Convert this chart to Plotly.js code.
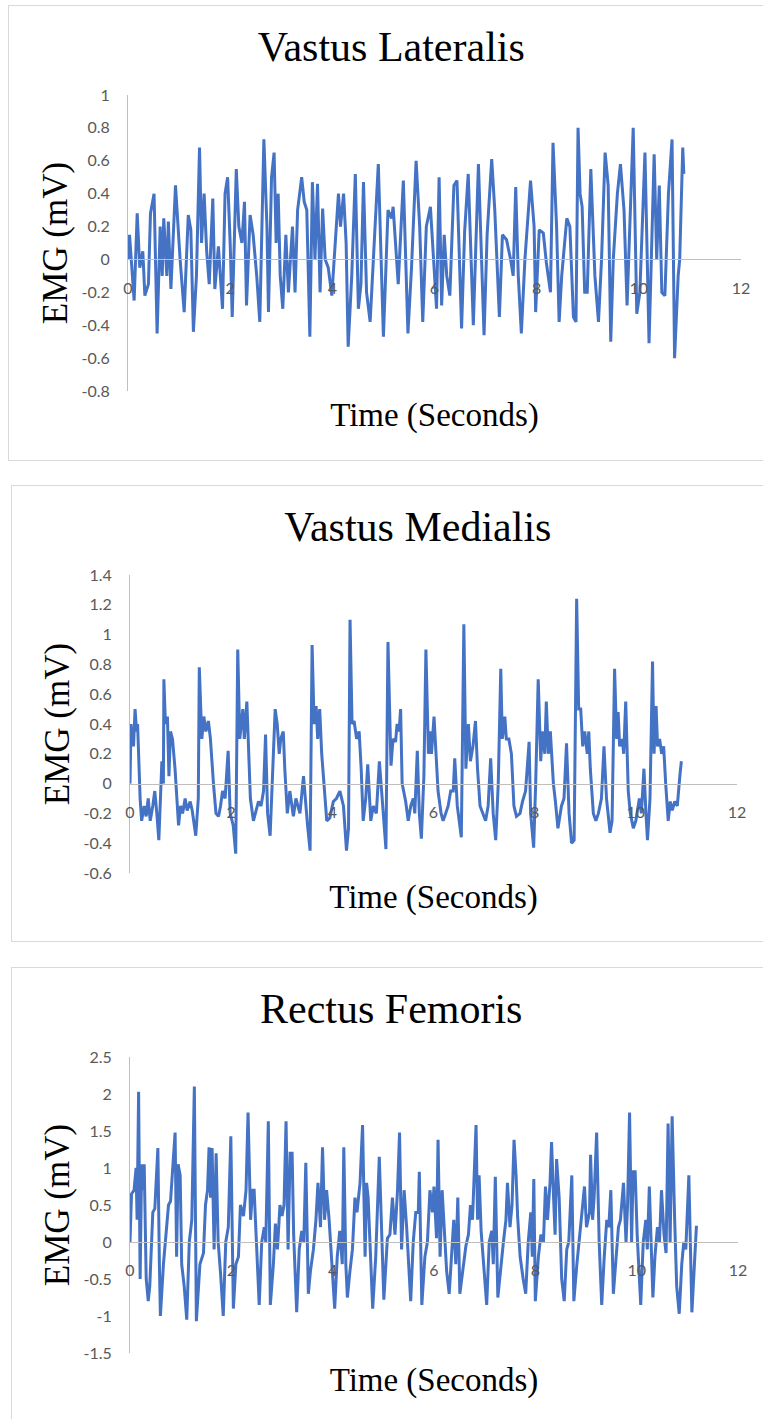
<!DOCTYPE html>
<html>
<head>
<meta charset="utf-8">
<script src="https://cdn.plot.ly/plotly-3.0.1.min.js"></script>
<style>
  html, body { margin: 0; padding: 0; background: #ffffff; }
  body { width: 763px; height: 1419px; overflow: hidden; position: relative; }
  .panel { position: absolute; border: 1px solid #d9d9d9; background: #ffffff; overflow: hidden; }
</style>
</head>
<body>
<div class="panel" style="left:8px; top:5px; width:760px; height:454px;"><div id="p1"></div></div>
<div class="panel" style="left:11px; top:485px; width:760px; height:455px;"><div id="p2"></div></div>
<div class="panel" style="left:11px; top:967px; width:760px; height:460px;"><div id="p3"></div></div>
<script>
// ---------------- data ----------------
const xTickVals = [0, 2, 4, 6, 8, 10, 12];
const xTickText = ['0', '2', '4', '6', '8', '10', '12'];

const vlTickVals = [-0.8, -0.6, -0.4, -0.2, 0, 0.2, 0.4, 0.6, 0.8, 1];
const vlTickText = ['-0.8', '-0.6', '-0.4', '-0.2', '0', '0.2', '0.4', '0.6', '0.8', '1'];
const vmTickVals = [-0.6, -0.4, -0.2, 0, 0.2, 0.4, 0.6, 0.8, 1, 1.2, 1.4];
const vmTickText = ['-0.6', '-0.4', '-0.2', '0', '0.2', '0.4', '0.6', '0.8', '1', '1.2', '1.4'];
const rfTickVals = [-1.5, -1, -0.5, 0, 0.5, 1, 1.5, 2, 2.5];
const rfTickText = ['-1.5', '-1', '-0.5', '0', '0.5', '1', '1.5', '2', '2.5'];

// Vastus Lateralis
const vlTime = [0, 0.03, 0.12, 0.18, 0.23, 0.29, 0.33, 0.40, 0.44, 0.51,
  0.57, 0.63, 0.67, 0.70, 0.76, 0.79, 0.84, 0.93, 1.02, 1.10,
  1.18, 1.23, 1.28, 1.34, 1.40, 1.44, 1.49, 1.54, 1.59, 1.66,
  1.70, 1.77, 1.85, 1.90, 1.95, 2.00, 2.04, 2.08, 2.12, 2.17,
  2.23, 2.28, 2.32, 2.39, 2.45, 2.52, 2.58, 2.66, 2.72, 2.75,
  2.81, 2.86, 2.90, 2.94, 2.98, 3.03, 3.09, 3.14, 3.22, 3.27,
  3.32, 3.40, 3.45, 3.50, 3.56, 3.61, 3.66, 3.71, 3.76, 3.81,
  3.86, 3.92, 3.99, 4.04, 4.12, 4.16, 4.22, 4.27, 4.31, 4.38,
  4.45, 4.51, 4.56, 4.61, 4.67, 4.74, 4.80, 4.90, 5.00, 5.09,
  5.16, 5.19, 5.29, 5.39, 5.48, 5.55, 5.64, 5.71, 5.77, 5.84,
  5.92, 6.01, 6.04, 6.09, 6.14, 6.19, 6.24, 6.30, 6.38, 6.44,
  6.53, 6.59, 6.66, 6.76, 6.86, 6.97, 7.03, 7.12, 7.18, 7.27,
  7.33, 7.41, 7.49, 7.54, 7.59, 7.64, 7.70, 7.77, 7.88, 7.95,
  7.98, 8.05, 8.13, 8.19, 8.27, 8.32, 8.39, 8.44, 8.49, 8.59,
  8.65, 8.72, 8.77, 8.81, 8.85, 8.89, 8.94, 8.99, 9.06, 9.14,
  9.21, 9.27, 9.34, 9.40, 9.45, 9.50, 9.58, 9.64, 9.71, 9.77,
  9.89, 9.96, 10.02, 10.12, 10.20, 10.30, 10.35, 10.40, 10.45, 10.51,
  10.58, 10.65, 10.70, 10.77, 10.80, 10.86, 10.88];
const vlEmg = [0, 0.15, -0.25, 0.28, -0.05, 0.05, -0.22, -0.15, 0.28, 0.40,
  -0.45, 0.20, -0.10, 0.25, -0.10, 0.23, -0.18, 0.45, 0.00, -0.32,
  0.27, 0.18, -0.44, -0.10, 0.68, 0.10, 0.40, 0.05, -0.15, 0.37,
  -0.18, 0.08, -0.30, 0.40, 0.50, 0.10, -0.35, 0.10, 0.55, 0.20,
  0.10, 0.35, -0.28, 0.27, 0.15, -0.10, -0.38, 0.73, 0.20, -0.32,
  0.50, 0.65, 0.10, 0.40, -0.10, -0.30, 0.15, -0.20, 0.20, -0.20,
  0.30, 0.50, 0.35, 0.30, -0.47, 0.47, 0.00, 0.46, -0.20, 0.31,
  0.00, -0.05, -0.22, 0.02, 0.40, 0.20, 0.40, 0.10, -0.53, -0.10,
  0.52, -0.30, -0.15, 0.47, -0.20, -0.38, 0.00, 0.58, -0.47, 0.30,
  0.25, 0.32, -0.15, 0.48, -0.45, -0.05, 0.60, 0.20, -0.38, 0.20,
  0.32, -0.10, -0.30, 0.50, -0.28, 0.15, -0.10, -0.22, 0.45, 0.48,
  -0.42, 0.17, 0.52, -0.40, 0.58, -0.46, 0.15, 0.61, 0.30, -0.35,
  0.15, 0.12, 0.00, -0.10, 0.44, -0.10, -0.45, 0.00, 0.48, 0.20,
  -0.32, 0.18, 0.16, -0.02, -0.20, 0.71, 0.20, -0.38, -0.10, 0.25,
  0.20, -0.35, -0.38, 0.80, 0.40, 0.32, -0.20, -0.20, 0.55, -0.10,
  -0.38, 0.00, 0.65, 0.45, -0.50, 0.00, 0.40, 0.58, 0.30, -0.28,
  0.80, -0.33, -0.20, 0.65, -0.51, 0.64, 0.00, 0.45, -0.20, -0.22,
  0.40, 0.73, -0.60, -0.10, 0.00, 0.68, 0.52];

// Vastus Medialis
const vmTime = [0, 0.02, 0.03, 0.07, 0.10, 0.13, 0.15, 0.20, 0.23, 0.28,
  0.32, 0.36, 0.40, 0.45, 0.49, 0.53, 0.57, 0.63, 0.66, 0.67,
  0.70, 0.74, 0.77, 0.80, 0.84, 0.89, 0.96, 1.00, 1.04, 1.09,
  1.13, 1.19, 1.23, 1.30, 1.35, 1.37, 1.42, 1.46, 1.50, 1.55,
  1.59, 1.65, 1.70, 1.75, 1.79, 1.83, 1.88, 1.94, 1.98, 2.04,
  2.09, 2.13, 2.17, 2.23, 2.26, 2.31, 2.34, 2.38, 2.44, 2.49,
  2.54, 2.59, 2.64, 2.68, 2.72, 2.77, 2.82, 2.87, 2.91, 2.95,
  2.98, 3.03, 3.06, 3.11, 3.16, 3.23, 3.28, 3.36, 3.43, 3.48,
  3.51, 3.56, 3.60, 3.64, 3.68, 3.71, 3.75, 3.79, 3.83, 3.89,
  3.95, 4.02, 4.08, 4.15, 4.22, 4.28, 4.32, 4.35, 4.39, 4.43,
  4.48, 4.53, 4.57, 4.61, 4.66, 4.70, 4.76, 4.81, 4.87, 4.93,
  5.06, 5.10, 5.16, 5.20, 5.25, 5.28, 5.32, 5.35, 5.38, 5.41,
  5.45, 5.50, 5.55, 5.60, 5.63, 5.68, 5.72, 5.76, 5.81, 5.85,
  5.90, 5.93, 5.96, 6.01, 6.05, 6.09, 6.15, 6.19, 6.24, 6.29,
  6.34, 6.39, 6.42, 6.47, 6.55, 6.60, 6.64, 6.69, 6.73, 6.78,
  6.83, 6.87, 6.92, 6.98, 7.03, 7.08, 7.13, 7.18, 7.23, 7.28,
  7.33, 7.36, 7.41, 7.44, 7.49, 7.54, 7.59, 7.64, 7.71, 7.76,
  7.82, 7.89, 7.92, 7.98, 8.02, 8.07, 8.12, 8.15, 8.20, 8.23,
  8.27, 8.31, 8.37, 8.41, 8.46, 8.53, 8.58, 8.63, 8.68, 8.73,
  8.78, 8.83, 8.87, 8.91, 8.95, 8.99, 9.04, 9.07, 9.10, 9.16,
  9.21, 9.26, 9.32, 9.37, 9.42, 9.49, 9.53, 9.58, 9.62, 9.65,
  9.68, 9.73, 9.76, 9.80, 9.85, 9.89, 9.95, 10.00, 10.07, 10.11,
  10.16, 10.20, 10.23, 10.28, 10.33, 10.36, 10.40, 10.43, 10.47, 10.51,
  10.55, 10.59, 10.64, 10.68, 10.72, 10.77, 10.82, 10.87, 10.90];
const vmEmg = [0, 0.40, 0.35, 0.25, 0.50, 0.35, 0.40, -0.10, -0.25, -0.15,
  -0.22, -0.10, -0.25, -0.15, -0.05, -0.20, -0.38, 0.15, 0.00, 0.70,
  0.40, 0.45, 0.05, 0.35, 0.30, 0.10, -0.28, -0.15, -0.20, -0.10,
  -0.18, -0.12, -0.18, -0.35, -0.10, 0.78, 0.30, 0.45, 0.35, 0.42,
  0.30, 0.00, -0.20, -0.22, -0.15, -0.05, -0.10, 0.22, -0.20, -0.28,
  -0.47, 0.90, 0.30, 0.50, 0.30, 0.55, 0.20, -0.10, -0.25, -0.18,
  -0.12, -0.15, -0.05, 0.33, -0.20, -0.35, 0.10, 0.50, 0.40, 0.20,
  0.30, 0.35, 0.10, -0.20, -0.05, -0.22, -0.10, -0.20, 0.05, -0.20,
  -0.28, -0.45, 0.93, 0.40, 0.52, 0.30, 0.50, 0.20, 0.00, -0.25,
  -0.23, -0.12, -0.10, -0.05, -0.15, -0.45, -0.30, 1.10, 0.40, 0.42,
  0.30, 0.35, 0.10, -0.25, -0.10, 0.13, -0.25, -0.15, -0.20, 0.15,
  -0.44, 0.95, 0.12, 0.30, 0.28, 0.40, 0.35, 0.50, 0.00, -0.05,
  -0.12, -0.25, -0.15, -0.10, -0.20, 0.22, -0.20, -0.37, 0.05, 0.90,
  0.20, 0.35, 0.20, 0.45, 0.20, -0.05, -0.20, -0.25, -0.20, -0.15,
  -0.05, -0.05, 0.17, -0.15, -0.36, 1.07, 0.10, 0.40, 0.15, 0.25,
  0.42, 0.10, -0.15, -0.20, -0.25, -0.15, 0.17, -0.20, -0.38, 0.00,
  0.77, 0.30, 0.45, 0.30, 0.30, 0.20, -0.15, -0.22, -0.20, -0.12,
  -0.05, 0.28, -0.20, -0.43, 0.00, 0.70, 0.15, 0.35, 0.20, 0.55,
  0.20, 0.35, 0.00, -0.12, -0.30, -0.15, -0.10, 0.27, -0.20, -0.40,
  -0.38, 1.24, 0.50, 0.50, 0.25, 0.35, 0.20, 0.35, 0.10, -0.20,
  -0.25, -0.20, -0.10, 0.25, -0.10, -0.33, -0.25, 0.77, 0.30, 0.48,
  0.25, 0.30, 0.20, 0.55, -0.05, -0.20, -0.30, -0.25, -0.10, -0.20,
  0.10, -0.20, -0.38, -0.10, 0.82, 0.20, 0.52, 0.25, 0.30, 0.20,
  0.25, 0.00, -0.25, -0.12, -0.18, -0.12, -0.15, 0.05, 0.15];

// Rectus Femoris
const rfTime = [0, 0.03, 0.08, 0.12, 0.14, 0.17, 0.20, 0.23, 0.26, 0.28,
  0.32, 0.36, 0.39, 0.45, 0.49, 0.55, 0.58, 0.60, 0.66, 0.70,
  0.76, 0.80, 0.84, 0.89, 0.92, 0.95, 0.99, 1.02, 1.07, 1.12,
  1.17, 1.22, 1.27, 1.31, 1.38, 1.45, 1.49, 1.53, 1.56, 1.59,
  1.62, 1.66, 1.70, 1.74, 1.79, 1.84, 1.89, 1.94, 1.99, 2.04,
  2.09, 2.14, 2.18, 2.24, 2.29, 2.33, 2.38, 2.42, 2.45, 2.50,
  2.55, 2.60, 2.65, 2.68, 2.73, 2.77, 2.83, 2.87, 2.91, 2.96,
  3.00, 3.04, 3.08, 3.12, 3.16, 3.20, 3.23, 3.29, 3.34, 3.39,
  3.43, 3.47, 3.52, 3.56, 3.62, 3.67, 3.71, 3.76, 3.80, 3.84,
  3.88, 3.93, 3.98, 4.04, 4.09, 4.14, 4.19, 4.22, 4.26, 4.29,
  4.34, 4.39, 4.44, 4.48, 4.54, 4.59, 4.64, 4.67, 4.70, 4.75,
  4.79, 4.85, 4.92,
  5.01, 5.08, 5.13, 5.18, 5.23, 5.28, 5.32, 5.36, 5.41, 5.46,
  5.54, 5.59, 5.64, 5.69, 5.71, 5.76, 5.82, 5.87, 5.92, 5.97,
  6.00, 6.05, 6.08, 6.12, 6.16, 6.20, 6.25, 6.30, 6.35, 6.39,
  6.43, 6.47, 6.51, 6.58, 6.63, 6.68, 6.72, 6.76, 6.83, 6.86,
  6.89, 6.93, 6.97, 7.04, 7.09, 7.14, 7.17, 7.21, 7.26, 7.32,
  7.37, 7.42, 7.45, 7.50, 7.54, 7.58, 7.62, 7.65, 7.70, 7.76,
  7.81, 7.86, 7.91, 7.94, 7.97, 8.00, 8.06, 8.11, 8.16, 8.20,
  8.24, 8.29, 8.32, 8.36, 8.39, 8.42, 8.47, 8.52, 8.57, 8.62,
  8.66, 8.72, 8.76, 8.82, 8.86, 8.91, 8.97, 9.01, 9.07, 9.09,
  9.13, 9.16, 9.21, 9.26, 9.31, 9.36, 9.41, 9.45, 9.49, 9.54,
  9.59, 9.64, 9.68, 9.74, 9.79, 9.82, 9.86, 9.90, 9.93, 9.97,
  10.01, 10.08, 10.13, 10.18, 10.21, 10.25, 10.32, 10.36, 10.41, 10.45,
  10.49, 10.54, 10.58, 10.62, 10.66, 10.70, 10.75, 10.79, 10.84, 10.89,
  10.93, 10.97, 11.03, 11.09, 11.14, 11.18];
const rfEmg = [0, 0.65, 0.70, 1.00, 0.30, 2.03, -0.50, 1.05, 0.70, 1.05,
  -0.50, -0.80, -0.60, 0.40, 0.45, 1.27, -0.30, -1.00, -0.30, 0.00,
  0.50, 0.55, 0.95, 1.48, -0.20, 1.05, 0.90, -0.30, -0.60, -1.05,
  0.00, 0.30, 2.10, -1.07, -0.30, -0.15, 0.50, 0.70, 1.28, 0.60,
  1.27, -0.10, 1.20, 0.00, -0.45, -1.00, 0.00, 0.20, 1.43, -0.90,
  -0.30, -0.20, 0.50, 0.35, 0.70, 1.75, 0.30, 0.70, 0.70, -0.20,
  -0.85, 0.00, 0.20, 0.00, 1.63, -0.85, -0.30, 0.25, -0.10, 0.50,
  0.35, 0.50, 1.63, -0.10, 1.20, 1.20, 0.10, -0.95, -0.10, 0.15,
  0.00, 1.07, -0.70, -0.40, -0.10, 0.30, 0.80, 0.20, 1.28, 0.30,
  0.70, 0.30, -0.20, -0.90, -0.20, 0.15, -0.30, 1.28, -0.30, -0.75,
  -0.40, -0.10, 0.60, 0.40, 0.80, 1.58, -0.20, 0.80, 0.60, -0.40,
  -0.90, -0.20, 1.15,
  -0.78, 0.05, 0.10, 0.60, 0.10, 0.70, 1.48, -0.10, 0.70, 0.20,
  -0.80, 0.00, 0.40, 0.40, 0.95, -0.85, -0.20, 0.00, 0.70, 0.40,
  0.75, 0.05, 1.38, -0.20, 0.70, 0.20, -0.40, -0.70, -0.20, 0.30,
  -0.30, 0.60, -0.70, -0.30, -0.05, 0.10, 0.50, 0.30, 1.58, 0.30,
  0.90, 0.15, -0.20, -0.85, 0.00, 0.15, -0.30, 0.88, -0.75, -0.30,
  0.00, 0.30, 0.80, 0.20, 0.50, 1.38, 0.90, 0.35, -0.20, -0.50,
  -0.70, 0.00, 0.40, -0.20, 0.85, -0.80, -0.20, 0.10, 0.00, 0.75,
  0.30, 0.80, 1.35, 0.60, 0.10, 1.12, 0.60, -0.50, -0.80, -0.10,
  0.00, 0.90, -0.80, -0.30, 0.00, 0.30, 0.75, 0.20, 0.40, 1.18,
  0.30, 0.60, 1.48, 0.00, -0.85, -0.20, 0.30, 0.20, 0.70, -0.70,
  -0.20, 0.20, 0.30, 0.80, 0.00, 0.50, 1.75, 0.00, 0.95, 0.95,
  0.10, -0.85, 0.00, 0.30, -0.10, 0.75, -0.75, -0.20, 0.20, 0.00,
  0.70, 0.10, -0.15, 1.60, 0.00, 1.70, 0.30, -0.60, -0.97, -0.30,
  0.00, -0.10, 0.90, -0.95, -0.30, 0.22];

// ---------------- drawing ----------------
const SERIF = 'Liberation Serif, Times New Roman, serif';
const SANS = 'Lato, Carlito, Open Sans, sans-serif';
const TICK_COLOR = '#595959';
const AXIS_LINE = '#bfbfbf';

function drawPanel(id, cfg) {
  const yr = cfg.yRange;
  const zeroPos = (0 - yr[0]) / (yr[1] - yr[0]);
  const trace = {
    x: cfg.t, y: cfg.v, type: 'scatter', mode: 'lines',
    line: { color: '#4472c4', width: 3 },
    hoverinfo: 'skip'
  };
  const layout = {
    width: cfg.w, height: cfg.h,
    margin: { l: cfg.l, r: cfg.w - cfg.l - cfg.pw, t: cfg.t0, b: cfg.h - cfg.t0 - cfg.ph, pad: 0 },
    paper_bgcolor: '#ffffff', plot_bgcolor: '#ffffff',
    showlegend: false,
    title: {
      text: cfg.title,
      font: { family: SERIF, size: 42, color: '#000000' },
      x: cfg.tx, xref: 'container', xanchor: 'center',
      y: cfg.ty, yref: 'container', yanchor: 'middle'
    },
    xaxis: {
      range: [0, 12], anchor: 'free', position: zeroPos,
      showline: true, linecolor: AXIS_LINE, linewidth: 1,
      showgrid: false, zeroline: false, ticks: '',
      tickvals: xTickVals, ticktext: xTickText,
      tickfont: { family: SANS, size: 16, color: TICK_COLOR },
      ticklabelstandoff: 14,
      title: { text: 'Time (Seconds)', font: { family: SERIF, size: 33, color: '#000000' }, standoff: cfg.xStand }
    },
    yaxis: {
      range: yr,
      showline: true, linecolor: AXIS_LINE, linewidth: 1,
      showgrid: false, zeroline: false, ticks: '',
      tickvals: cfg.tv, ticktext: cfg.tt,
      tickfont: { family: SANS, size: 16, color: TICK_COLOR },
      ticklabelstandoff: 14,
      title: { text: 'EMG (mV)', font: { family: SERIF, size: 35, color: '#000000' }, standoff: 3 }
    }
  };
  Plotly.newPlot(id, [trace], layout, { staticPlot: true, displayModeBar: false });
}

drawPanel('p1', { t: vlTime, v: vlEmg, title: 'Vastus Lateralis', yRange: [-0.8, 1], tv: vlTickVals, tt: vlTickText,
  w: 760, h: 454, l: 119, pw: 613, t0: 89, ph: 296, tx: 0.503, ty: 0.911, xStand: 107 });
drawPanel('p2', { t: vmTime, v: vmEmg, title: 'Vastus Medialis', yRange: [-0.6, 1.4], tv: vmTickVals, tt: vmTickText,
  w: 760, h: 455, l: 118, pw: 607, t0: 89, ph: 298, tx: 0.534, ty: 0.911, xStand: 65 });
drawPanel('p3', { t: rfTime, v: rfEmg, title: 'Rectus Femoris', yRange: [-1.5, 2.5], tv: rfTickVals, tt: rfTickText,
  w: 760, h: 460, l: 118, pw: 608, t0: 89, ph: 296, tx: 0.499, ty: 0.913, xStand: 89 });
</script>
</body>
</html>
